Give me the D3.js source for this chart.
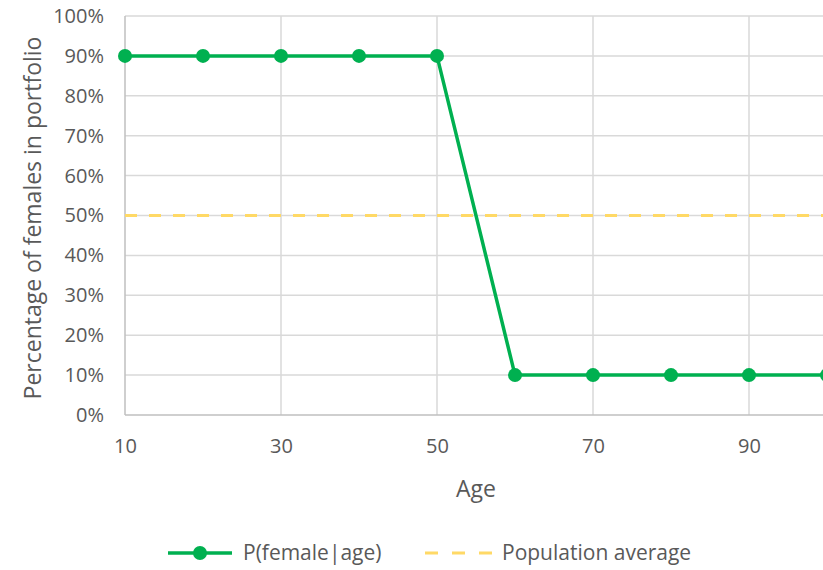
<!DOCTYPE html>
<html>
<head>
<meta charset="utf-8">
<script src="https://cdn.jsdelivr.net/npm/d3@7"></script>
<style>
  body { margin: 0; background: #fff; }
  svg { display: block; font-family: "Open Sans", "Liberation Sans", sans-serif; }
</style>
</head>
<body>
<div id="chart"></div>
<script>
// data
var ages = [10, 20, 30, 40, 50, 60, 70, 80, 90, 100];
var pFemale = [0.9, 0.9, 0.9, 0.9, 0.9, 0.1, 0.1, 0.1, 0.1, 0.1];
var popAverage = 0.5;
var xTicks = [10, 30, 50, 70, 90];
var yTicks = [0, 0.1, 0.2, 0.3, 0.4, 0.5, 0.6, 0.7, 0.8, 0.9, 1.0];
var seriesNames = ["P(female|age)", "Population average"];

var width = 823, height = 570;
var margin = {top: 16, right: -4, bottom: 155, left: 125};
var w = width - margin.left - margin.right,
    h = height - margin.top - margin.bottom;

var green = "#00b050", yellow = "#ffd966", grid = "#d9d9d9", textCol = "#595959";

var svg = d3.select("#chart").append("svg")
    .attr("width", width)
    .attr("height", height);

var g = svg.append("g")
    .attr("transform", "translate(" + margin.left + "," + margin.top + ")");

var x = d3.scaleLinear().domain([10, 100]).range([0, w]);
var y = d3.scaleLinear().domain([0, 1]).range([h, 0]);

// gridlines
g.selectAll(".hgrid")
    .data(yTicks.slice(1))
    .enter().append("line")
        .attr("x1", 0).attr("x2", w)
        .attr("y1", function(d) { return y(d); })
        .attr("y2", function(d) { return y(d); })
        .attr("stroke", grid).attr("stroke-width", 1.5);

g.selectAll(".vgrid")
    .data(xTicks.slice(1))
    .enter().append("line")
        .attr("x1", function(d) { return x(d); })
        .attr("x2", function(d) { return x(d); })
        .attr("y1", 0).attr("y2", h)
        .attr("stroke", grid).attr("stroke-width", 1.5);

// axis lines
g.append("line").attr("x1", 0).attr("x2", 0).attr("y1", 0).attr("y2", h)
    .attr("stroke", "#bfbfbf").attr("stroke-width", 1.5);
g.append("line").attr("x1", 0).attr("x2", w).attr("y1", h).attr("y2", h)
    .attr("stroke", "#bfbfbf").attr("stroke-width", 1.5);

// axes (labels only)
var yAxis = g.append("g")
    .call(d3.axisLeft(y).tickValues(yTicks).tickFormat(d3.format(".0%")).tickSize(0).tickPadding(21));
var xAxis = g.append("g")
    .attr("transform", "translate(0," + h + ")")
    .call(d3.axisBottom(x).tickValues(xTicks).tickSize(0).tickPadding(24));
[yAxis, xAxis].forEach(function(a) {
    a.select(".domain").remove();
    a.selectAll("text").attr("fill", textCol).style("font-size", "20px")
        .style("font-family", "'Open Sans', 'Liberation Sans', sans-serif");
});

// population average
g.append("line")
    .attr("x1", 0).attr("x2", w)
    .attr("y1", y(popAverage)).attr("y2", y(popAverage))
    .attr("stroke", yellow).attr("stroke-width", 3)
    .attr("stroke-dasharray", "12,12");

// series
var line = d3.line()
    .x(function(d, i) { return x(ages[i]); })
    .y(function(d) { return y(d); });

g.append("path")
    .datum(pFemale)
    .attr("fill", "none")
    .attr("stroke", green)
    .attr("stroke-width", 3.5)
    .attr("d", line);

g.selectAll(".pt")
    .data(pFemale)
    .enter().append("circle")
        .attr("cx", function(d, i) { return x(ages[i]); })
        .attr("cy", function(d) { return y(d); })
        .attr("r", 7)
        .attr("fill", green);

// axis titles
svg.append("text")
    .attr("x", margin.left + w / 2)
    .attr("y", 497)
    .attr("text-anchor", "middle")
    .attr("fill", textCol)
    .style("font-size", "23px")
    .text("Age");

svg.append("text")
    .attr("transform", "translate(41,218)rotate(-90)")
    .attr("text-anchor", "middle")
    .attr("fill", textCol)
    .style("font-size", "23px")
    .text("Percentage of females in portfolio");

// legend
var leg = svg.append("g").attr("transform", "translate(0,553)");
leg.append("line").attr("x1", 168).attr("x2", 232).attr("y1", 0).attr("y2", 0)
    .attr("stroke", green).attr("stroke-width", 3.5);
leg.append("circle").attr("cx", 200).attr("cy", 0).attr("r", 7).attr("fill", green);
leg.append("text").attr("x", 243).attr("y", 0).attr("dy", "0.35em")
    .attr("fill", textCol).style("font-size", "21px").text(seriesNames[0]);

leg.append("line").attr("x1", 425).attr("x2", 493).attr("y1", 0).attr("y2", 0)
    .attr("stroke", yellow).attr("stroke-width", 3)
    .attr("stroke-dasharray", "13,14");
leg.append("text").attr("x", 502).attr("y", 0).attr("dy", "0.35em")
    .attr("fill", textCol).style("font-size", "21px").text(seriesNames[1]);
</script>
</body>
</html>
